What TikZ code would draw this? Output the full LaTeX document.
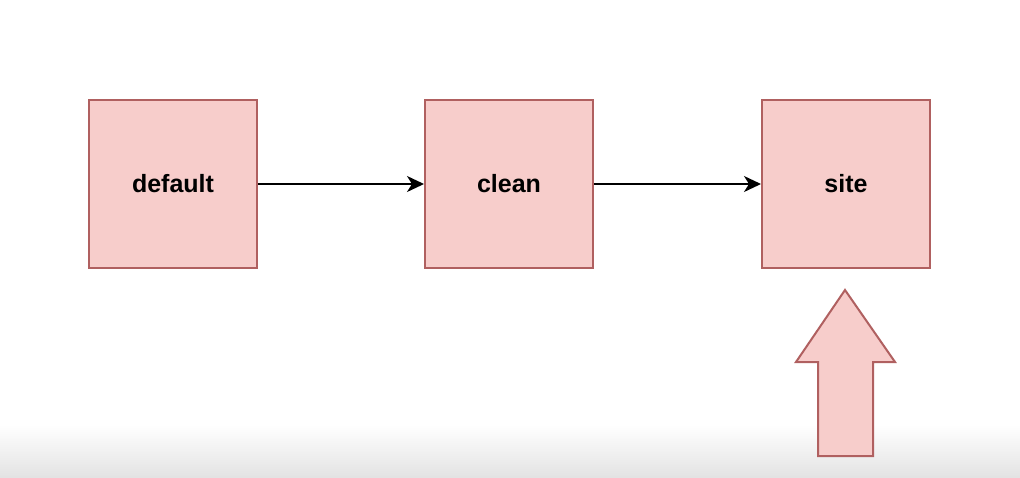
\documentclass[tikz,border=0pt]{standalone}
\usepackage{fontspec}
\setmainfont{Liberation Sans}
\usetikzlibrary{arrows.meta}
\definecolor{boxfill}{HTML}{F7CDCB}
\definecolor{boxline}{HTML}{B06060}
\tikzset{
	phase/.style={draw=boxline,fill=boxfill,line width=2pt,minimum size=168pt,inner sep=0pt,font=\fontsize{25}{28}\selectfont\bfseries},
	flow/.style={line width=1.8pt,-{Stealth[length=17pt,width=16pt,inset=5pt]}}
}
\begin{document}
\begin{tikzpicture}[x=1pt,y=-1pt]
			\useasboundingbox (0,0) rectangle (1020,477);
			\fill[white] (0,0) rectangle (1020,477);
			\shade[top color=white,bottom color=black!11] (0,425) rectangle (1020,477);
			
			\node[phase] (default) at (173,184) {default};
			\node[phase] (clean) at (509,184) {clean};
			\node[phase] (site) at (846,184) {site};
			
			\draw [flow] (default) -- (clean);
			\draw [flow] (clean) -- (site);
			
			\draw[draw=boxline,fill=boxfill,line width=2pt,line join=miter] (845,290) -- (895,362) -- (873,362) -- (873,456) -- (818,456) -- (818,362) -- (796,362) -- cycle;
\end{tikzpicture}
\end{document}
